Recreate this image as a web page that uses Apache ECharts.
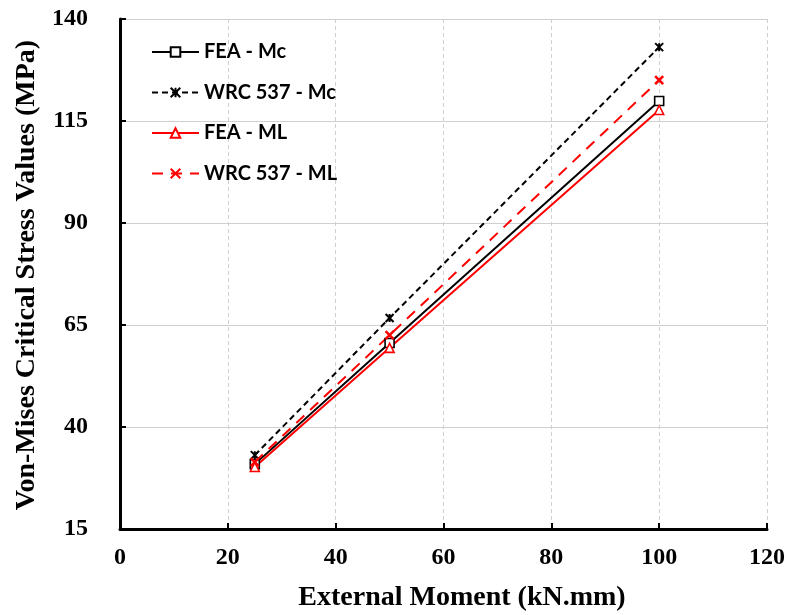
<!DOCTYPE html>
<html>
<head>
<meta charset="utf-8">
<script src="https://cdn.jsdelivr.net/npm/echarts@6/dist/echarts.min.js"></script>
<style>html,body{margin:0;padding:0;background:#fff}#c{width:791px;height:615px}</style>
</head>
<body>
<div id="c"></div>
<script>
var moments = [25, 50, 100];
var feaMc = [30.9, 60.6, 119.9];
var wrcMc = [33.1, 66.7, 133.1];
var feaMl = [30.2, 59.4, 117.7];
var wrcMl = [31.4, 62.5, 125.0];
var seriesNames = ['FEA - Mc', 'WRC 537 - Mc', 'FEA - ML', 'WRC 537 - ML'];
var xTicks = [0, 20, 40, 60, 80, 100, 120];
var yTickLabels = [15, 40, 65, 90, 115, 140];

function pairs(ys) { return moments.map(function (x, i) { return [x, ys[i]]; }); }

var serif = '"Liberation Serif", "DejaVu Serif", serif';
var chart = echarts.init(document.getElementById('c'), null, { renderer: 'canvas' });
var yMin = yTickLabels[0], yMax = yTickLabels[yTickLabels.length - 1];
var yStep = yTickLabels[1] - yTickLabels[0];

chart.setOption({
  animation: false,
  backgroundColor: '#fff',
  grid: { left: 120, right: 24, top: 19, bottom: 86, containLabel: false },
  xAxis: {
    type: 'value', min: xTicks[0], max: xTicks[xTicks.length - 1], interval: xTicks[1] - xTicks[0],
    axisLine: { show: true, onZero: false, lineStyle: { color: '#000', width: 3 } },
    axisTick: { show: true, inside: true, length: 6, lineStyle: { color: '#000', width: 2 } },
    axisLabel: { color: '#000', fontFamily: serif, fontWeight: 'bold', fontSize: 24, margin: 17 },
    splitLine: { show: true, lineStyle: { color: '#d0d0d0', type: [4, 3], width: 1 } }
  },
  yAxis: [{
    type: 'value', min: 0, max: yMax - yMin, interval: yStep,
    axisLine: { show: true, onZero: false, lineStyle: { color: '#000', width: 3 } },
    axisTick: { show: true, inside: true, length: 6, lineStyle: { color: '#000', width: 2 } },
    axisLabel: { color: '#000', fontFamily: serif, fontWeight: 'bold', fontSize: 24, margin: 32,
      formatter: function (v) { return String(yTickLabels[Math.round(v / yStep)]); } },
    splitLine: { show: true, lineStyle: { color: '#d0d0d0', width: 1 } }
  }, {
    type: 'value', min: yMin, max: yMax, show: false,
    splitLine: { show: false }
  }],
  legend: {
    orient: 'vertical', left: 146, top: 37, itemGap: 20.5, itemWidth: 47, itemHeight: 12,
    textStyle: { fontFamily: 'Lato, "Open Sans", sans-serif', fontWeight: 'bold', fontSize: 20, color: '#000' },
    data: seriesNames
  },
  graphic: [
    { type: 'text', x: 462, y: 598, style: { text: 'External Moment (kN.mm)', font: 'bold 28px ' + serif, fill: '#000', align: 'center', verticalAlign: 'middle' } },
    { type: 'text', x: 27, y: 275, rotation: Math.PI / 2, style: { text: 'Von-Mises Critical Stress Values (MPa)', font: 'bold 28px ' + serif, fill: '#000', align: 'center', verticalAlign: 'middle' } }
  ],
  series: [
    { name: seriesNames[0], type: 'line', yAxisIndex: 1, data: pairs(feaMc), symbol: 'rect', symbolSize: 9,
      lineStyle: { color: '#000', width: 2 }, itemStyle: { color: '#fff', borderColor: '#000', borderWidth: 1.6 } },
    { name: seriesNames[1], type: 'line', yAxisIndex: 1, data: pairs(wrcMc), symbol: 'path://M0,0L10,10M10,0L0,10M5,0L5,10', symbolSize: 8,
      lineStyle: { color: '#000', width: 2, type: [6, 4] }, itemStyle: { color: 'none', borderColor: '#000', borderWidth: 2 } },
    { name: seriesNames[2], type: 'line', yAxisIndex: 1, data: pairs(feaMl), symbol: 'triangle', symbolSize: 9,
      lineStyle: { color: '#ff0000', width: 2 }, itemStyle: { color: '#fff', borderColor: '#ff0000', borderWidth: 1.6 } },
    { name: seriesNames[3], type: 'line', yAxisIndex: 1, data: pairs(wrcMl), symbol: 'path://M0,0L10,10M10,0L0,10', symbolSize: 8,
      lineStyle: { color: '#ff0000', width: 2, type: [11, 8] }, itemStyle: { color: 'none', borderColor: '#ff0000', borderWidth: 2.5 } }
  ]
});
</script>
</body>
</html>
